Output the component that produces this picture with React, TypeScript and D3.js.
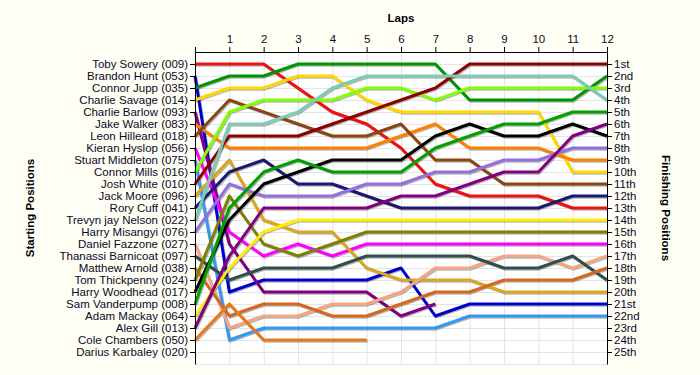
import { useRef, useEffect } from 'react';
import * as d3 from 'd3';

// starting grid order, names as shown on the left axis
const drivers = [
  'Toby Sowery (009)', 'Brandon Hunt (053)', 'Connor Jupp (035)', 'Charlie Savage (014)',
  'Charlie Barlow (093)', 'Jake Walker (083)', 'Leon Hilleard (018)', 'Kieran Hyslop (056)',
  'Stuart Middleton (075)', 'Connor Mills (016)', 'Josh White (010)', 'Jack Moore (096)',
  'Rory Cuff (041)', 'Trevyn jay Nelson (022)', 'Harry Misangyi (076)', 'Daniel Fazzone (027)',
  'Thanassi Barnicoat (097)', 'Matthew Arnold (038)', 'Tom Thickpenny (024)', 'Harry Woodhead (017)',
  'Sam Vanderpump (008)', 'Adam Mackay (064)', 'Alex Gill (013)', 'Cole Chambers (050)',
  'Darius Karbaley (020)'
];

const finishLabels = [
  '1st', '2nd', '3rd', '4th', '5th', '6th', '7th', '8th', '9th', '10th', '11th', '12th', '13th',
  '14th', '15th', '16th', '17th', '18th', '19th', '20th', '21st', '22nd', '23rd', '24th', '25th'
];

const laps = [0, 1, 2, 3, 4, 5, 6, 7, 8, 9, 10, 11, 12];

// position at each lap (lap 0 = grid), one list per driver in grid order
const positions: number[][] = [
  [1, 1, 1, 3, 5, 6, 8, 11, 12, 12, 12, 13, 13],
  [2, 20, 19, 19, 19, 19, 18, 22, 21, 21, 21, 21, 21],
  [3, 2, 2, 1, 1, 1, 1, 1, 4, 4, 4, 4, 2],
  [4, 3, 3, 2, 2, 4, 5, 5, 5, 5, 5, 10, 10],
  [5, 16, 20, 20, 20, 20, 22, 21],
  [6, 8, 8, 8, 8, 8, 7, 6, 8, 8, 8, 9, 9],
  [7, 4, 5, 6, 7, 7, 6, 9, 9, 11, 11, 11, 11],
  [8, 15, 17, 16, 17, 16, 16, 16, 16, 16, 16, 16, 16],
  [9, 24, 23, 23, 23, 23, 23, 23, 22, 22, 22, 22, 22],
  [10, 5, 4, 4, 4, 3, 3, 4, 3, 3, 3, 3, 3],
  [11, 7, 7, 7, 6, 5, 4, 3, 1, 1, 1, 1, 1],
  [12, 9, 14, 15, 15, 18, 19, 19, 19, 20, 20, 20, 20],
  [13, 10, 9, 11, 11, 12, 13, 13, 13, 13, 13, 12, 12],
  [14, 6, 6, 5, 3, 2, 2, 2, 2, 2, 2, 2, 4],
  [15, 11, 12, 12, 12, 11, 11, 10, 10, 9, 9, 8, 8],
  [16, 23, 22, 22, 21, 21, 20, 18, 18, 17, 17, 18, 17],
  [17, 19, 18, 18, 18, 17, 17, 17, 17, 18, 18, 17, 19],
  [18, 22, 21, 21, 22, 22, 21, 20, 20, 19, 19, 19, 18],
  [19, 12, 16, 17, 16, 15, 15, 15, 15, 15, 15, 15, 15],
  [20, 14, 11, 10, 9, 9, 9, 7, 6, 7, 7, 6, 7],
  [21, 13, 10, 9, 10, 10, 10, 8, 7, 6, 6, 5, 5],
  [22, 18, 15, 14, 14, 14, 14, 14, 14, 14, 14, 14, 14],
  [23, 17, 13, 13, 13, 13, 12, 12, 11, 10, 10, 7, 6],
  [24, 21, 24, 24, 24, 24],
  []
];

const colors = [
  '#ee1111', '#0000cd', '#009400', '#ffd700', '#800080', '#ff8000', '#8b4513', '#ff00ff',
  '#3399ee', '#80ff00', '#8b0000', '#daa520', '#191970', '#7ccbb5', '#9370db', '#f4a582',
  '#2f4f4f', '#d2691e', '#808000', '#000000', '#00a000', '#ffee00', '#800080', '#e8781a',
  '#999999'
];

const W = 700;
const H = 375;

export default function App() {
  const svgRef = useRef<SVGSVGElement>(null);

  useEffect(() => {
    if (!svgRef.current) return;
    const svg = d3.select(svgRef.current);
    svg.selectAll('*').remove();

    const x = d3.scaleLinear().domain([0, 12]).range([195, 607]);
    const y = d3.scaleLinear().domain([0, 26]).range([52, 364]);
    const font = 'Arial, "Liberation Sans", sans-serif';

    svg.append('rect').attr('width', W).attr('height', H).attr('fill', '#fefef4');
    svg.append('rect')
      .attr('x', x(0)).attr('y', y(0))
      .attr('width', x(12) - x(0)).attr('height', y(26) - y(0))
      .attr('fill', '#ffffff');

    // grid
    const grid = svg.append('g').attr('stroke', '#e4e4e4').attr('stroke-width', 1);
    laps.slice(1).forEach(l => {
      grid.append('line')
        .attr('x1', x(l) + 0.5).attr('x2', x(l) + 0.5)
        .attr('y1', y(0)).attr('y2', y(26));
    });
    d3.range(1, 27).forEach(p => {
      grid.append('line')
        .attr('x1', x(0)).attr('x2', x(12))
        .attr('y1', y(p) + 0.5).attr('y2', y(p) + 0.5);
    });

    const line = d3.line<number>()
      .x((_, i) => x(i))
      .y(d => y(d));

    // shadows first, then coloured lines
    const lines = svg.append('g').attr('fill', 'none').attr('stroke-linejoin', 'round');
    positions.forEach(p => {
      if (p.length < 2) return;
      lines.append('path')
        .attr('d', line(p))
        .attr('transform', 'translate(1,1.2)')
        .attr('stroke', 'rgba(0,0,0,0.28)')
        .attr('stroke-width', 3);
    });
    positions.forEach((p, i) => {
      if (p.length < 2) return;
      lines.append('path')
        .attr('d', line(p))
        .attr('stroke', colors[i])
        .attr('stroke-width', 3);
    });

    // axes
    const top = svg.append('g')
      .attr('transform', `translate(0,${y(0)})`)
      .call(d3.axisTop(x).tickValues(laps).tickSize(5).tickSizeOuter(0)
        .tickFormat(d => (d === 0 ? '' : String(d))));
    const left = svg.append('g')
      .attr('transform', `translate(${x(0)},0)`)
      .call(d3.axisLeft(y).tickValues(d3.range(1, 26)).tickSize(5).tickSizeOuter(0)
        .tickFormat(d => drivers[(d as number) - 1]));
    const right = svg.append('g')
      .attr('transform', `translate(${x(12)},0)`)
      .call(d3.axisRight(y).tickValues(d3.range(1, 26)).tickSize(5).tickSizeOuter(0)
        .tickFormat(d => finishLabels[(d as number) - 1]));
    [top, left, right].forEach(a => {
      a.select('.domain').attr('stroke', '#000');
      a.selectAll('.tick line').attr('stroke', '#000');
      a.selectAll('text')
        .attr('fill', '#0a0a28')
        .style('font-family', font)
        .style('font-size', '11.5px');
    });
    top.selectAll('text').attr('dy', '-0.1em');
    left.selectAll('text').attr('x', -7);
    right.selectAll('text').attr('x', 7);

    svg.append('text')
      .attr('x', (x(0) + x(12)) / 2).attr('y', 22)
      .attr('text-anchor', 'middle')
      .style('font-family', font).style('font-size', '11.5px').style('font-weight', 'bold')
      .text('Laps');
    svg.append('text')
      .attr('transform', `translate(34,${y(13)}) rotate(-90)`)
      .attr('text-anchor', 'middle')
      .style('font-family', font).style('font-size', '11.5px').style('font-weight', 'bold')
      .text('Starting Positions');
    svg.append('text')
      .attr('transform', `translate(662,${y(13)}) rotate(90)`)
      .attr('text-anchor', 'middle')
      .style('font-family', font).style('font-size', '11.5px').style('font-weight', 'bold')
      .text('Finishing Positions');
  }, []);

  return (
    <svg
      ref={svgRef}
      width={W}
      height={H}
      style={{ position: 'absolute', left: 0, top: 0, display: 'block' }}
    />
  );
}
